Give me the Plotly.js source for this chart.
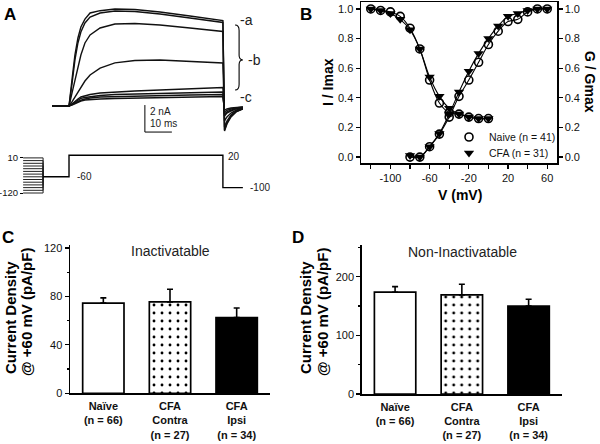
<!DOCTYPE html>
<html>
<head>
<meta charset="utf-8">
<script src="https://cdn.plot.ly/plotly-3.0.1.min.js"></script>
<style>html,body{margin:0;padding:0;background:#fff;}#chart{width:600px;height:444px;}</style>
</head>
<body>
<div id="chart"></div>
<script>
// ---------- Panel A: current traces (time in ms, current in nA) ----------
const timeMs = [-6.3, 0, 1.1, 2.2, 3.3, 4.4, 5.9, 7.8, 11.5, 17, 24.4, 33.7, 44.8, 57, 57.6, 58.5, 60, 61.9, 64.4];
const currentA1 = [0, 0, 1.93, 3.78, 5.04, 5.85, 6.44, 6.89, 7.06, 7.19, 7.15, 6.96, 6.67, 6.32, -1.85, -1.33, -0.81, -0.44, -0.22];
const currentA2 = [0, 0, 1.63, 3.41, 4.67, 5.48, 6.15, 6.59, 6.89, 7.04, 7.00, 6.81, 6.52, 6.19, -1.78, -1.26, -0.74, -0.41, -0.22];
const currentA3 = [0, 0, 0.96, 1.93, 2.96, 3.78, 4.67, 5.26, 5.78, 6.07, 6.11, 6.00, 5.78, 5.52, -1.56, -1.11, -0.67, -0.37, -0.19];
const currentA4 = [0, 0, 0.30, 0.67, 1.04, 1.41, 1.85, 2.30, 2.81, 3.19, 3.37, 3.41, 3.30, 3.19, -1.11, -0.81, -0.52, -0.30, -0.15];
const currentA5 = [0, 0, 0.15, 0.37, 0.52, 0.67, 0.74, 0.85, 0.96, 1.04, 1.11, 1.19, 1.30, 1.37, -0.74, -0.52, -0.37, -0.22, -0.11];
const currentA6 = [0, 0, 0.15, 0.30, 0.44, 0.56, 0.63, 0.70, 0.78, 0.85, 0.89, 0.93, 0.96, 1.04, -0.59, -0.44, -0.30, -0.19, -0.11];
const currentA7 = [0, 0, 0.11, 0.22, 0.37, 0.44, 0.52, 0.59, 0.67, 0.70, 0.74, 0.78, 0.81, 0.85, -0.44, -0.33, -0.22, -0.15, -0.07];
const currentA8 = [0, 0, 0.07, 0.19, 0.30, 0.37, 0.44, 0.48, 0.52, 0.56, 0.59, 0.63, 0.67, 0.70, -0.30, -0.22, -0.15, -0.11, -0.07];

// Voltage protocol (mV)
const prepulseLevels = [-120, -110, -100, -90, -80, -70, -60, -50, -40, -30, -20, -10, 0, 10];
const prepulseStartMs = -17.0;
const prepulseEndMs = -9.6;
const holdingMv = -60;
const protocolTimes = [-9.6, 0, 0, 57, 57, 64.4];
const protocolVolts = [-60, -60, 20, 20, -100, -100];

// Scale bar
const scaleBarT0 = 28.1, scaleBarI0 = -1.93, scaleBarMs = 10, scaleBarNa = 2;

// ---------- Panel B ----------
const vInact = [-120, -110, -100, -90, -80, -70, -60, -50, -40, -30, -20, -10, 0];
const naiveInact = [1.0, 0.99, 0.98, 0.95, 0.87, 0.73, 0.52, 0.365, 0.30, 0.29, 0.27, 0.26, 0.26];
const cfaInact   = [1.0, 0.99, 0.97, 0.93, 0.86, 0.73, 0.54, 0.41, 0.33, 0.29, 0.27, 0.26, 0.26];
const vAct = [-80, -70, -60, -50, -40, -30, -20, -10, 0, 10, 20, 30, 40, 50, 60];
const naiveAct = [0.0, 0.0, 0.07, 0.155, 0.27, 0.41, 0.52, 0.64, 0.76, 0.85, 0.915, 0.93, 0.98, 1.0, 1.0];
const cfaAct   = [0.01, 0.0, 0.07, 0.16, 0.29, 0.44, 0.58, 0.70, 0.80, 0.885, 0.95, 0.97, 0.99, 1.0, 1.0];
const bTickVals = [-120, -100, -80, -60, -40, -20, 0, 20, 40, 60];
const bTickLabels = ['', '-100', '', '-60', '', '-20', '', '20', '', '60'];

// ---------- Panels C & D ----------
const groupNames = ['Naïve', 'CFA<br>Contra', 'CFA<br>Ipsi'];
const groupN = [66, 27, 34];
const inactDensity = [74.5, 75.5, 62.5];
const inactSem = [4.3, 10.5, 8.0];
const nonInactDensity = [173.5, 169, 150];
const nonInactSem = [9.5, 18, 11.5];

const FONT = 'Liberation Sans, Arial, Helvetica, sans-serif';
const groupLabels = groupNames.map((g, i) => g + '<br>(n = ' + groupN[i] + ')');

const traces = [];
[currentA1, currentA2, currentA3, currentA4, currentA5, currentA6, currentA7, currentA8].forEach(c => {
  traces.push({x: timeMs, y: c, xaxis: 'x', yaxis: 'y', mode: 'lines', line: {color: '#111', width: 1.4}, showlegend: false, hoverinfo: 'skip'});
});
prepulseLevels.forEach(v => {
  traces.push({x: [prepulseStartMs, prepulseEndMs, prepulseEndMs], y: [v, v, holdingMv], xaxis: 'x', yaxis: 'y2', mode: 'lines', line: {color: '#222', width: 1}, showlegend: false, hoverinfo: 'skip'});
});
traces.push({x: protocolTimes, y: protocolVolts, xaxis: 'x', yaxis: 'y2', mode: 'lines', line: {color: '#000', width: 1.4}, showlegend: false, hoverinfo: 'skip'});
traces.push({x: [scaleBarT0, scaleBarT0, scaleBarT0 + scaleBarMs], y: [scaleBarI0 + scaleBarNa, scaleBarI0, scaleBarI0], xaxis: 'x', yaxis: 'y', mode: 'lines', line: {color: '#000', width: 1}, showlegend: false, hoverinfo: 'skip'});

// Panel B fit lines
[[vInact, naiveInact, 'y3'], [vInact, cfaInact, 'y3'], [vAct, naiveAct, 'y4'], [vAct, cfaAct, 'y4']].forEach(s => {
  traces.push({x: s[0], y: s[1], xaxis: 'x2', yaxis: s[2], mode: 'lines', line: {color: '#000', width: 1.1, shape: 'spline', smoothing: 1}, showlegend: false, hoverinfo: 'skip'});
});
const naiveMarker = {symbol: 'circle-open', size: 8, color: '#000', line: {width: 1.6, color: '#000'}};
const cfaMarker = {symbol: 'triangle-down', size: 9, color: '#000'};
traces.push({x: vInact, y: naiveInact, xaxis: 'x2', yaxis: 'y3', mode: 'markers', marker: naiveMarker, name: 'Naive (n = 41)', legend: 'legend', showlegend: true});
traces.push({x: vInact, y: cfaInact, xaxis: 'x2', yaxis: 'y3', mode: 'markers', marker: cfaMarker, name: 'CFA (n = 31)', legend: 'legend2', showlegend: true});
traces.push({x: vAct, y: naiveAct, xaxis: 'x2', yaxis: 'y4', mode: 'markers', marker: naiveMarker, showlegend: false});
traces.push({x: vAct, y: cfaAct, xaxis: 'x2', yaxis: 'y4', mode: 'markers', marker: cfaMarker, showlegend: false});

const barStyles = [
  {color: '#fff', pattern: {shape: ''}},
  {color: '#fff', pattern: {shape: '.', fgcolor: '#000', bgcolor: '#fff', fgopacity: 1, size: 8, solidity: 0.1, fillmode: 'overlay'}},
  {color: '#000', pattern: {shape: ''}}
];
function addBars(vals, errs, xa, ya) {
  vals.forEach((v, i) => {
    traces.push({
      type: 'bar', x: [groupLabels[i]], y: [v], xaxis: xa, yaxis: ya, width: 0.62,
      marker: Object.assign({line: {color: '#000', width: 1.7}}, barStyles[i]),
      error_y: {type: 'data', array: [errs[i]], arrayminus: [0], symmetric: false, color: '#000', thickness: 1.6, width: 3},
      showlegend: false, hoverinfo: 'skip'
    });
  });
}
addBars(inactDensity, inactSem, 'x3', 'y5');
addBars(nonInactDensity, nonInactSem, 'x4', 'y6');

const px = v => v / 600;
const py = v => 1 - v / 444;
const axBase = {showgrid: false, zeroline: false, showline: true, linecolor: '#000', linewidth: 1.5, ticks: 'outside', tickcolor: '#000', tickwidth: 1.2, ticklen: 4, tickfont: {size: 11, color: '#111'}};
function ann(text, x, y, opts) {
  return Object.assign({text: text, x: px(x), y: py(y), xref: 'paper', yref: 'paper', xanchor: 'center', yanchor: 'middle', showarrow: false}, opts || {});
}
function annData(text, x, y, xr, yr, opts) {
  return Object.assign({text: text, x: x, y: y, xref: xr, yref: yr, xanchor: 'left', yanchor: 'middle', showarrow: false}, opts || {});
}
const small = {font: {size: 10, color: '#222'}};
const yTitle1 = '<b>Current Density</b>';
const yTitle2 = '<b>@ +60 mV (pA/pF)</b>';

const layout = {
  width: 600, height: 444, margin: {l: 0, r: 0, t: 0, b: 0},
  paper_bgcolor: '#fff', plot_bgcolor: 'rgba(0,0,0,0)',
  font: {family: FONT, size: 11, color: '#000'},
  showlegend: true, barmode: 'overlay',
  legend: {x: px(449), y: py(137), xanchor: 'left', yanchor: 'middle', bgcolor: 'rgba(0,0,0,0)', font: {size: 10.5, color: '#111'}, itemwidth: 30},
  legend2: {x: px(449), y: py(153), xanchor: 'left', yanchor: 'middle', bgcolor: 'rgba(0,0,0,0)', font: {size: 10.5, color: '#111'}, itemwidth: 30},
  xaxis: {domain: [0, px(260)], range: [-25.56, 70.74], visible: false, anchor: 'y'},
  yaxis: {domain: [py(140), 1], range: [-2.519, 7.852], visible: false, anchor: 'x'},
  yaxis2: {domain: [py(200), py(150)], range: [-145.9, 39.26], anchor: 'free', position: px(23), showline: false, showgrid: false, zeroline: false,
           tickmode: 'array', tickvals: [-120, 10], ticktext: ['-120', '10'], ticks: 'outside', ticklen: 3, tickcolor: '#000', tickfont: {size: 9.5, color: '#111'}},
  xaxis2: Object.assign({}, axBase, {domain: [px(361), px(557)], range: [-130, 70], anchor: 'y3', mirror: true, tickmode: 'array', tickvals: bTickVals, ticktext: bTickLabels}),
  yaxis3: Object.assign({}, axBase, {domain: [py(163), py(2)], range: [-0.04, 1.047], anchor: 'x2', tick0: 0, dtick: 0.2, tickformat: '.1f'}),
  yaxis4: Object.assign({}, axBase, {domain: [py(163), py(2)], range: [-0.04, 1.047], anchor: 'x2', overlaying: 'y3', side: 'right', tick0: 0, dtick: 0.2, tickformat: '.1f'}),
  xaxis3: Object.assign({}, axBase, {domain: [px(70), px(270)], range: [-0.5, 2.5], anchor: 'y5', type: 'category', ticks: '', ticklabelstandoff: 2, tickfont: {size: 11, color: '#111', weight: 'bold'}}),
  yaxis5: Object.assign({}, axBase, {domain: [py(393.3), py(245)], range: [0, 122.5], anchor: 'x3', tick0: 0, dtick: 40, minor: {dtick: 20, ticks: 'outside', ticklen: 2, tickcolor: '#000'}}),
  xaxis4: Object.assign({}, axBase, {domain: [px(361.7), px(562)], range: [-0.5, 2.5], anchor: 'y6', type: 'category', ticks: '', ticklabelstandoff: 2, tickfont: {size: 11, color: '#111', weight: 'bold'}}),
  yaxis6: Object.assign({}, axBase, {domain: [py(394), py(245)], range: [0, 254], anchor: 'x4', tick0: 0, dtick: 100, minor: {dtick: 50, ticks: 'outside', ticklen: 2, tickcolor: '#000'}}),
  shapes: [
    {type: 'path', xref: 'x', yref: 'y', line: {color: '#000', width: 1.1},
     path: 'M61.5,6.0 Q63.0,6.0 63.0,5.6 L63.0,3.75 Q63.0,3.41 64.4,3.41 Q63.0,3.41 63.0,3.07 L63.0,1.6 Q63.0,1.19 61.5,1.19'}
  ],
  annotations: [
    ann('<b>A</b>', 10, 14, {font: {size: 17}}),
    ann('<b>B</b>', 306, 14, {font: {size: 17}}),
    ann('<b>C</b>', 8, 238, {font: {size: 17}}),
    ann('<b>D</b>', 298, 238, {font: {size: 17}}),
    ann('-a', 238, 20, {xanchor: 'left', font: {size: 14, color: '#222'}}),
    ann('-b', 246, 60, {xanchor: 'left', font: {size: 14, color: '#222'}}),
    ann('-c', 238, 97, {xanchor: 'left', font: {size: 14, color: '#222'}}),
    annData('2 nA', 29.3, -0.44, 'x', 'y', small),
    annData('10 ms', 29.3, -1.33, 'x', 'y', small),
    annData('-60', 2.2, -60, 'x', 'y2', small),
    annData('20', 58.3, 14, 'x', 'y2', small),
    annData('-100', 66.2, -100, 'x', 'y2', small),
    ann('<b>I / Imax</b>', 328, 82, {textangle: -90, font: {size: 14}}),
    ann('<b>G / Gmax</b>', 590, 82, {textangle: 90, font: {size: 14}}),
    ann('<b>V (mV)</b>', 460, 195, {font: {size: 14}}),
    ann(yTitle1, 10, 318, {textangle: -90, font: {size: 15}}),
    ann(yTitle2, 26, 312, {textangle: -90, font: {size: 15}}),
    ann(yTitle1, 305, 318, {textangle: -90, font: {size: 15}}),
    ann(yTitle2, 322, 312, {textangle: -90, font: {size: 15}}),
    ann('Inactivatable', 170, 251, {font: {size: 14, color: '#222'}}),
    ann('Non-Inactivatable', 462, 252, {font: {size: 14, color: '#222'}})
  ]
};

Plotly.newPlot('chart', traces, layout, {displayModeBar: false, staticPlot: true});
</script>
</body>
</html>
